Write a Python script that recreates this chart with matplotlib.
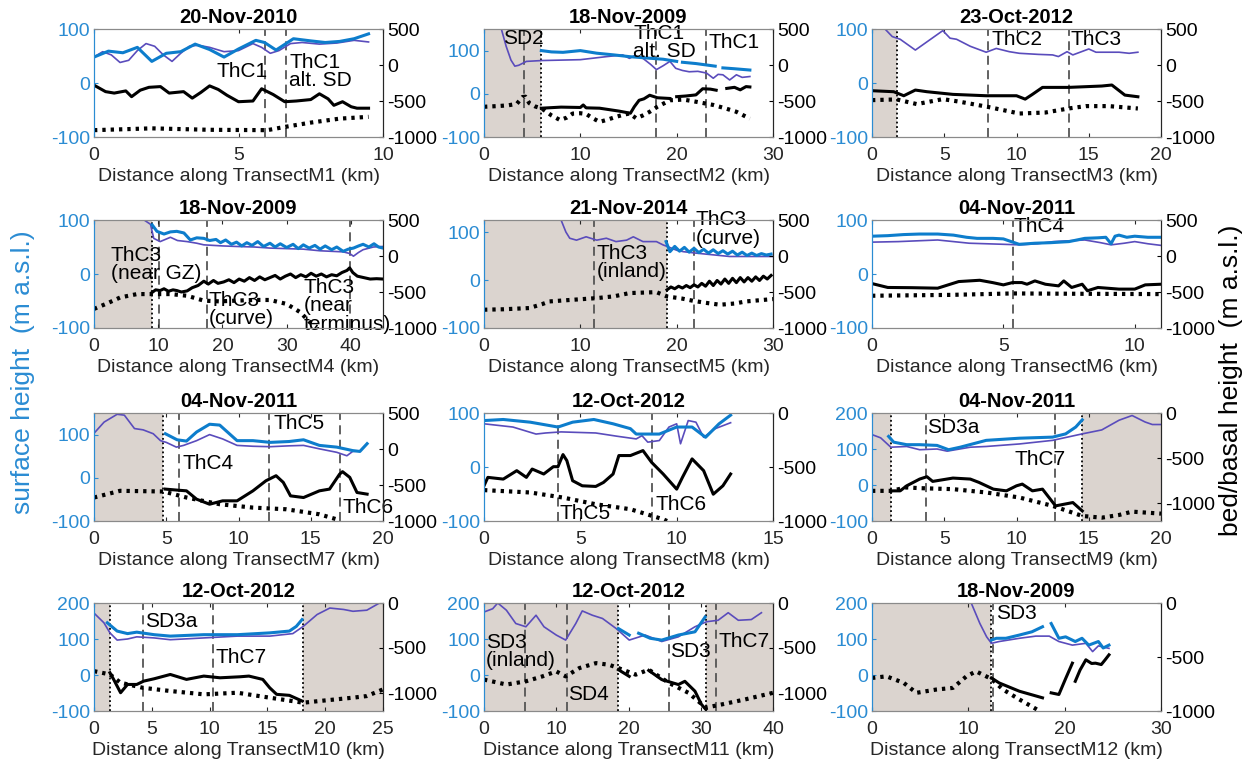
import numpy as np
import matplotlib.pyplot as plt

nan = np.nan

# ---- M1 ----
m1_surf_x = [0, 0.5, 1.0, 1.5, 2.0, 2.5, 3.0, 3.5, 4.0, 4.5, 5.0, 5.6, 5.9, 6.3, 6.9, 7.5, 8.0, 8.5, 9.0, 9.5]
m1_surf_y = [48, 59, 56, 66, 40, 55, 58, 72, 62, 48, 63, 79, 75, 61, 82, 78, 75, 77, 82, 91]
m1_dem_x = [0, 0.3, 0.6, 0.9, 1.2, 1.5, 1.8, 2.1, 2.4, 2.7, 3.0, 3.3, 3.6, 4.0, 4.5, 5.0, 5.5, 5.8, 6.1, 6.4, 6.8, 7.2, 7.8, 8.4, 9.0, 9.5]
m1_dem_y = [48, 58, 52, 38, 42, 60, 73, 68, 52, 40, 55, 68, 70, 66, 58, 60, 73, 66, 55, 60, 73, 75, 72, 74, 79, 76]
m1_base_x = [0, 0.4, 0.7, 1.1, 1.3, 1.6, 1.9, 2.3, 2.6, 3.1, 3.4, 3.7, 4.0, 4.3, 4.6, 5.0, 5.5, 5.8, 6.2, 6.6, 7.0, 7.5, 7.8, 8.1, 8.3, 8.6, 8.9, 9.1, 9.5]
m1_base_y = [-280, -370, -390, -360, -440, -350, -310, -300, -390, -370, -460, -380, -290, -340, -420, -510, -500, -330, -410, -510, -500, -480, -400, -470, -560, -510, -580, -600, -600]
m1_bed_x = [0, 2, 4, 6, 6.6, 7.5, 8.5, 9.5]
m1_bed_y = [-905, -880, -900, -905, -860, -800, -745, -720]

# ---- M2 ----
m2_surf_x = [5.95, 7, 8.2, 10, 11.7, 13.5, 15.1, 16.8, 18.6, 20.0, nan, 20.6, 22, 24.0, nan, 24.8, 26, 27.6]
m2_surf_y = [100, 97, 96, 100, 94, 90, 86, 83, 80, 75, nan, 73, 70, 64, nan, 60, 58, 55]
m2_dem_x = [1.8, 2.3, 2.8, 3.2, 3.6, 4.4, 6, 8, 10, 12.7, 14.4, 15.1, 15.6, 16.5, 17.3, 17.9, 18.6, 19.3, 19.9, 20.6, 21.3, 22.2, 23.1, 23.8, 24.3, 24.8, 25.5, 26.2, 26.8, 27.6]
m2_dem_y = [150, 110, 78, 64, 66, 75, 77, 78, 79, 86, 90, 82, 88, 82, 68, 56, 65, 75, 59, 54, 51, 52, 48, 36, 45, 44, 32, 44, 38, 40]
m2_base_x = [5.95, 8, 10, 10.3, 10.6, 12, 14, 15.2, 15.6, 16.1, 16.6, 17.2, 18.0, 19.3, nan, 20, 21, 22, 22.7, 23.5, 24.1, nan, 25.2, 26, 26.6, 27.2, 27.6]
m2_base_y = [-600, -585, -590, -555, -595, -600, -640, -670, -580, -490, -470, -420, -455, -465, nan, -440, -430, -415, -330, -335, -350, nan, -325, -310, -345, -300, -305]
m2_bed_x = [0, 1.5, 2.5, 3.4, 4.0, 4.3, 4.7, 5.3, 6.0, 7.0, 7.9, 8.6, 9.2, 10, 10.6, 11.3, 12.0, 12.8, 13.7, 14.5, 15.1, 15.8, 16.5, 17.2, 18, 19.3, 20.7, 22, 23.8, 25, 26.2, 27.6]
m2_bed_y = [-580, -570, -560, -540, -445, -440, -530, -575, -605, -700, -765, -730, -675, -670, -680, -740, -790, -760, -720, -690, -674, -740, -700, -650, -580, -490, -480, -510, -555, -600, -650, -745]

# ---- M3 ----
m3_dem_x = [0.9, 1.4, 1.95, 3.0, 4.9, 5.4, 5.85, 6.8, 7.9, 8.6, 9.5, 10.2, 11.5, 12.5, 12.9, 13.5, 13.9, 14.5, 15.0, 15.5, 16.5, 17.1, 17.8, 18.4]
m3_dem_y = [100, 86, 81, 61, 97, 83, 81, 68, 57, 64, 58, 55, 53, 52, 49, 58, 52, 58, 63, 57, 57, 57, 55, 57]
m3_base_x = [0, 1.5, 2.2, 3.0, 3.8, 5.6, 7.9, 10.0, 10.6, 11.1, 11.8, 13.6, 15.9, 16.6, 17.5, 18.4]
m3_base_y = [-357, -371, -427, -348, -371, -408, -427, -427, -474, -408, -311, -311, -292, -278, -418, -441]
m3_bed_x = [0, 1.7, 3.1, 4.9, 6.1, 8.0, 10.2, 12.0, 13.6, 14.8, 16.4, 18.4]
m3_bed_y = [-488, -478, -543, -474, -511, -581, -674, -660, -604, -571, -571, -604]

# ---- M4 ----
m4_surf_x = [9.05, 9.8, 10.9, 11.9, 12.9, 14.0, 15.0, 16.0, 17.1, 18.0, 19.0, 19.7, 20.5, 21.4, 22.2, 23.0, 23.8, 24.6, 25.5, 26.4, 27.4, 28.2, 29.0, 30.0, 31.0, 31.8, 32.6, 33.5, 34.4, 35.2, 36.0, 37.0, 37.8, 38.8, 39.6, 40.4, 41.2, 41.9, 42.8, 43.6, 44.3, 45]
m4_surf_y = [91, 79, 74, 78, 79, 76, 63, 67, 66, 62, 64, 58, 63, 55, 59, 52, 58, 53, 60, 51, 57, 50, 56, 49, 55, 47, 54, 48, 53, 46, 52, 45, 50, 42, 46, 48, 52, 55, 50, 56, 50, 48]
m4_dem_x = [7.8, 8.8, 9.3, 10.3, 11.9, 13.0, 14.5, 16, 17.1, 20, 22.2, 25, 27.4, 30, 32.6, 35.2, 37, 38.8, 39.8, 40.4, 41.2, 41.9, 43.5, 45]
m4_dem_y = [100, 92, 66, 60, 68, 62, 60, 57, 54, 52, 51, 50, 48, 47, 46, 43, 42, 41, 38, 33, 40, 45, 50, 51]
m4_base_x = [9.05, 9.6, 10.3, 10.9, 11.6, 12.3, 12.9, 13.6, 14.5, 15.3, 16.2, 17.1, 17.8, 18.6, 19.3, 20.2, 21.0, 21.8, 22.6, 23.4, 24.2, 25.0, 25.8, 26.6, 27.4, 28.2, 29.0, 29.8, 30.6, 31.4, 32.2, 33.0, 33.8, 34.6, 35.4, 36.2, 37.0, 37.8, 38.6, 39.4, 39.8, 40.3, 41.0, 42, 43, 44, 45]
m4_base_y = [-506, -470, -480, -455, -490, -470, -480, -500, -485, -440, -410, -350, -390, -340, -380, -360, -330, -370, -320, -350, -300, -340, -290, -330, -300, -270, -320, -280, -250, -300, -260, -290, -240, -280, -250, -290, -260, -275, -230, -200, -165, -230, -280, -300, -320, -315, -320]
m4_bed_x = [0, 2, 4.1, 6.7, 9.05, 11.9, 14.5, 17.1, 19.5, 22.2, 25, 27.4, 30, 32.1, 33.6, 34.7]
m4_bed_y = [-735, -660, -575, -529, -529, -529, -552, -620, -630, -620, -610, -611, -666, -780, -918, -987]

# ---- M5 ----
m5_dem_x = [8, 8.5, 8.9, 9.6, 10.6, 11.7, 12.7, 13.7, 14.8, 15.5, 16.5, 17.9, 18.6, 19.0, 20.0, 20.7, 22, 23.5, 25.5, 27.5, 30]
m5_dem_y = [125, 100, 87, 83, 90, 83, 87, 80, 83, 90, 80, 80, 73, 70, 62, 59, 56, 53, 49, 49, 49]
m5_surf_x = [18.9, 19.3, 19.8, 20.3, 20.8, 21.3, 21.8, 22.3, 22.8, 23.3, 23.8, 24.3, 24.8, 25.3, 25.8, 26.3, 26.8, 27.3, 27.8, 28.3, 28.8, 29.3, 29.8]
m5_surf_y = [80, 59, 70, 60, 68, 58, 66, 57, 64, 56, 63, 55, 61, 54, 60, 52, 58, 51, 56, 51, 55, 52, 54]
m5_base_x = [19.0, 19.4, 19.8, 20.2, 20.6, 21.0, 21.4, 21.8, 22.2, 22.6, 23.0, 23.4, 23.8, 24.2, 24.6, 25.0, 25.4, 25.8, 26.2, 26.6, 27.0, 27.4, 27.8, 28.2, 28.6, 29.0, 29.4, 29.8]
m5_base_y = [-470, -430, -455, -420, -445, -410, -440, -400, -430, -380, -420, -350, -410, -340, -390, -320, -380, -310, -370, -300, -360, -300, -350, -290, -340, -280, -320, -270]
m5_bed_x = [0, 2, 4.7, 6.0, 6.8, 9, 11.7, 13.5, 15.1, 17.9, 19.0, 20.5, 21.7, 23, 24.5, 26, 27.2, 30]
m5_bed_y = [-746, -740, -723, -670, -631, -610, -585, -560, -515, -502, -562, -590, -622, -650, -677, -660, -631, -598]

# ---- M6 ----
m6_surf_x = [0, 0.6, 1.2, 1.8, 2.5, 3.1, 3.6, 4.0, 4.6, 5.0, 5.3, 5.6, 6.2, 6.8, 7.5, 8.1, 8.6, 8.9, 9.0, 9.1, 9.25, 9.4, 9.7, 10, 10.5, 11]
m6_surf_y = [70, 71, 73, 74, 74, 72, 68, 66, 66, 65, 60, 55, 57, 58, 60, 66, 67, 68, 62, 56, 70, 72, 68, 70, 68, 68]
m6_dem_x = [0, 1.0, 2.5, 3.7, 5.0, 5.6, 6.3, 6.9, 8.1, 8.7, 9.1, 9.6, 10, 10.5, 11]
m6_dem_y = [59, 60, 63, 57, 55, 54, 56, 60, 63, 58, 54, 57, 60, 56, 53]
m6_base_x = [0, 0.6, 1.5, 2.5, 3.3, 4.1, 4.6, 5.0, 5.35, 5.7, 5.9, 6.2, 6.6, 7.1, 7.3, 7.6, 8.0, 8.2, 8.6, 9.4, 10.0, 10.4, 11]
m6_base_y = [-383, -437, -440, -447, -355, -337, -370, -401, -369, -369, -392, -346, -392, -415, -346, -437, -392, -483, -437, -460, -460, -401, -392]
m6_bed_x = [0, 3, 5.35, 8, 11]
m6_bed_y = [-552, -540, -520, -525, -529]

# ---- M7 ----
m7_dem_x = [0, 0.7, 1.6, 2.1, 2.8, 3.4, 4.1, 4.6, 5.0, 5.7, 6.2, 7.1, 8.0, 8.9, 9.9, 11, 12.2, 13.5, 14.5, 15.6, 16.8, 17.5, 17.9, 18.4, 18.9]
m7_dem_y = [103, 129, 147, 145, 114, 111, 102, 86, 82, 71, 75, 86, 100, 90, 75, 73, 72, 74, 75, 67, 59, 51, 61, 62, 79]
m7_surf_x = [4.94, 5.75, 6.4, 7.1, 8.0, 8.7, 9.9, 11, 12.2, 13.5, 14.5, 15.6, 16.8, 17.9, 18.4, 18.9]
m7_surf_y = [102, 88, 85, 106, 124, 122, 86, 86, 82, 84, 88, 75, 71, 63, 61, 79]
m7_base_x = [4.94, 5.75, 6.4, 7.1, 8.0, 8.9, 9.9, 11, 11.9, 12.6, 13.1, 13.6, 14.5, 15.6, 16.3, 17.0, 17.2, 17.7, 18.2, 18.9]
m7_base_y = [-557, -571, -581, -697, -767, -720, -720, -581, -441, -371, -464, -651, -674, -581, -557, -348, -315, -394, -604, -627]
m7_bed_x = [0, 1.8, 4.8, 6.4, 8.7, 11, 13.3, 15.6, 16.8, 17.0]
m7_bed_y = [-674, -581, -590, -674, -767, -814, -837, -907, -977, -1000]

# ---- M8 ----
m8_surf_x = [0, 1, 2.4, 3.84, 4.6, 5.7, 6.7, 7.6, 7.9, 9.1, 10, 10.8, 11.5, 12.2, 12.8]
m8_surf_y = [86, 88, 83, 74, 83, 88, 80, 71, 61, 61, 74, 74, 55, 80, 96]
m8_dem_x = [0, 1.5, 2.7, 3.2, 4.0, 5.8, 6.9, 7.9, 8.2, 8.5, 9.1, 9.6, 10.0, 10.2, 10.6, 11.0, 11.4, 12.0, 12.8]
m8_dem_y = [80, 74, 61, 63, 65, 63, 57, 52, 58, 46, 49, 74, 80, 43, 86, 83, 55, 71, 82]
m8_base_x = [0, 0.2, 1, 1.7, 2.2, 2.5, 3.1, 3.6, 3.84, 4.1, 4.3, 4.6, 5.1, 5.8, 6.2, 6.7, 7.0, 7.6, 8.25, 8.7, 9.3, 10.0, 10.3, 10.8, 11.4, 11.9, 12.4, 12.8]
m8_base_y = [-674, -596, -612, -534, -596, -519, -565, -497, -497, -385, -441, -627, -674, -680, -643, -565, -394, -394, -348, -457, -565, -705, -596, -425, -534, -752, -674, -565]
m8_bed_x = [0, 2.4, 4.1, 5.8, 7.6, 9.3, 9.5]
m8_bed_y = [-714, -736, -783, -845, -891, -984, -1000]

# ---- M9 ----
m9_dem_x = [0, 0.6, 1.3, 2.4, 3.3, 4.5, 5.2, 6.8, 7.9, 10.2, 12.5, 14.55, 15.9, 17.1, 18.0, 18.9, 19.4, 20]
m9_dem_y = [140, 131, 105, 107, 98, 100, 94, 105, 107, 114, 124, 142, 153, 180, 193, 175, 168, 168]
m9_surf_x = [1.15, 1.5, 2.4, 3.3, 4.5, 5.3, 6.1, 7.9, 10.2, 12.5, 13.4, 14.1, 14.55]
m9_surf_y = [135, 119, 112, 112, 110, 98, 105, 124, 130, 133, 142, 161, 181]
m9_base_x = [1.3, 1.95, 2.4, 3.3, 3.8, 4.2, 5.6, 6.8, 7.4, 8.4, 9.3, 10.0, 10.4, 11.1, 11.8, 12.7, 13.9, 14.55]
m9_base_y = [-865, -865, -809, -734, -708, -760, -723, -734, -771, -846, -865, -809, -790, -865, -846, -1032, -995, -1088]
m9_bed_x = [0, 1.3, 2.4, 3.3, 5.6, 7.9, 10.2, 12.5, 14.55, 15.9, 17.1, 18.0, 20]
m9_bed_y = [-865, -865, -827, -835, -846, -883, -939, -1032, -1144, -1163, -1133, -1096, -1118]

# ---- M10 ----
m10_dem_x = [0, 0.86, 1.38, 2, 2.9, 3.7, 5.2, 6.6, 9.5, 12.4, 15.2, 17.2, 18.1, 19.3, 20.4, 21.6, 22.4, 23.6, 24.7, 25]
m10_dem_y = [172, 145, 117, 97, 100, 106, 103, 98, 103, 108, 108, 115, 135, 168, 186, 182, 177, 180, 200, 200]
m10_surf_x = [1.15, 2, 2.9, 3.7, 5.2, 6.6, 9.5, 12.4, 15.2, 16.9, 17.5, 18]
m10_surf_y = [145, 122, 115, 119, 112, 108, 112, 112, 117, 122, 135, 154]
m10_base_x = [1.38, 1.7, 2.3, 2.9, 3.7, 4.3, 5.2, 6.6, 8, 9.5, 10.9, 12.6, 13.4, 14.6, 15.2, 15.8, 16.9, 18]
m10_base_y = [-775, -849, -997, -905, -905, -868, -842, -794, -849, -812, -831, -820, -812, -849, -942, -1015, -1026, -1089]
m10_bed_x = [0, 1.38, 2.3, 4.22, 6.6, 9.5, 12.4, 15.2, 18.1, 19.5, 22.4, 23.6, 25]
m10_bed_y = [-757, -794, -886, -942, -978, -1015, -997, -1052, -1108, -1089, -1052, -1034, -960]

# ---- M11 ----
m11_dem_x = [0, 1.2, 1.9, 3.1, 4.4, 5.8, 7.2, 8.3, 10, 11.3, 12.7, 13.6, 15, 16.4, 18.3, 20.1, 22.3, 24.6, 26.9, 29.2, 30.8, 32.4, 33.8, 35.2, 37, 38.4]
m11_dem_y = [175, 184, 200, 180, 143, 134, 166, 134, 111, 97, 143, 178, 166, 157, 129, 97, 111, 93, 106, 134, 148, 152, 173, 152, 154, 173]
m11_surf_x = [18.6, 20.1, nan, 21.4, 23, 24.6, 26.9, 29.2, 30.6]
m11_surf_y = [129, 111, nan, 116, 102, 97, 111, 120, 161]
m11_base_x = [18.6, 20.1, nan, 22.8, 24.6, 26.9, 27.8, 29.2, 30.1, 30.7]
m11_base_y = [-741, -815, nan, -749, -851, -906, -870, -980, -1127, -1182]
m11_bed_x = [0, 3.1, 5.8, 8.1, 10, 11.3, 13.2, 15.5, 17.3, 18.6, 21, 22.8, 25.6, 28.3, 30.7, 32.9, 36.1, 40]
m11_bed_y = [-851, -906, -870, -815, -760, -815, -723, -668, -686, -723, -796, -741, -888, -998, -1163, -1127, -1072, -998]

# ---- M12 ----
m12_dem_x = [10.3, 11.2, 11.9, 12.4, 13.2, 15.3, 17.0, 18.4, 19.4, 20.8, 22.2, 22.9, 23.5, 24.6]
m12_dem_y = [200, 143, 106, 88, 93, 102, 108, 108, 93, 83, 88, 65, 81, 74]
m12_surf_x = [12.4, 12.9, 13.9, 15.3, 16.6, 17.7, nan, 18.6, 19.4, 20.1, 21.1, 21.8, 22.5, 23.5, 24.0, 24.6]
m12_surf_y = [97, 102, 102, 111, 120, 134, nan, 143, 102, 106, 93, 102, 83, 93, 75, 83]
m12_base_x = [12.4, 13.2, 15.3, 17.7, nan, 18.6, 19.4, 20.1, 20.8, nan, 21.1, 21.6, 22.2, 22.8, 23.2, 23.8, 24.2, 24.6]
m12_base_y = [-694, -740, -817, -878, nan, -832, -847, -700, -557, nan, -725, -620, -526, -560, -557, -570, -526, -480]
m12_bed_x = [0, 1.5, 3.3, 4.6, 6.7, 8.4, 9.8, 10.8, 12.4, 13.6, 15.3, 17.4]
m12_bed_y = [-694, -679, -740, -832, -801, -786, -679, -633, -703, -801, -893, -1000]

# panel settings: titles, limits, shaded (grounded) parts, marker lines, labels
titles = ["20-Nov-2010", "18-Nov-2009", "23-Oct-2012", "18-Nov-2009", "21-Nov-2014", "04-Nov-2011",
          "04-Nov-2011", "12-Oct-2012", "04-Nov-2011", "12-Oct-2012", "12-Oct-2012", "18-Nov-2009"]
xmax = [10, 30, 20, 45, 30, 11, 20, 15, 20, 25, 40, 30]
xticks = [[0, 5, 10], [0, 10, 20, 30], [0, 5, 10, 15, 20], [0, 10, 20, 30, 40], [0, 10, 20, 30], [0, 5, 10],
          [0, 5, 10, 15, 20], [0, 5, 10, 15], [0, 5, 10, 15, 20], [0, 5, 10, 15, 20, 25], [0, 10, 20, 30, 40], [0, 10, 20, 30]]
left_lim = [(-100, 100), (-100, 150), (-100, 100), (-100, 100), (-100, 125), (-100, 100),
            (-100, 150), (-100, 100), (-100, 200), (-100, 200), (-100, 200), (-100, 200)]
right_lim = [(-1000, 500)] * 7 + [(-1000, 0), (-1200, 0), (-1200, 0), (-1200, 0), (-1000, 0)]
shade = [[], [(0, 5.95)], [(0, 1.72)], [(0, 9.05)], [(0, 19.0)], [],
         [(0, 4.78)], [], [(0, 1.3), (14.55, 20)], [(0, 1.38), (18.1, 25)], [(0, 18.6), (30.7, 40)], [(0, 12.37)]]
dotted = [[], [5.95], [1.72], [9.05], [19.0], [], [4.78], [], [1.3, 14.55], [1.38, 18.1], [18.6, 30.7], [12.37]]
dashed = [[5.9, 6.65], [4.2, 17.9, 23.0], [8.0, 13.6], [10.1, 17.6, 39.8], [11.4, 21.8], [5.35],
          [5.9, 12.1, 17.0], [3.84, 8.74], [3.73, 12.67], [4.22, 10.3], [5.7, 11.5, 25.6, 32.1], [12.6]]
labels = [
    [("ThC1", 4.25, 21), ("ThC1\nalt. SD", 6.75, 21)],
    [("SD2", 2.0, 127), ("ThC1\nalt. SD", 15.5, 119), ("ThC1", 23.3, 119)],
    [("ThC2", 8.25, 81), ("ThC3", 13.75, 81)],
    [("ThC3\n(near GZ)", 2.6, 18), ("ThC3\n(curve)", 17.8, -66), ("ThC3\n(near\nterminus)", 32.6, -59)],
    [("ThC3\n(inland)", 11.7, 36), ("ThC3\n(curve)", 22.0, 106)],
    [("ThC4", 5.4, 88)],
    [("ThC4", 6.1, 32), ("ThC5", 12.4, 125), ("ThC6", 17.2, -69)],
    [("ThC5", 3.9, -86), ("ThC6", 8.9, -69)],
    [("SD3a", 3.8, 161), ("ThC7", 9.85, 72)],
    [("SD3a", 4.4, 149), ("ThC7", 10.5, 48)],
    [("SD3\n(inland)", 0.3, 65), ("SD4", 11.7, -54), ("SD3", 25.8, 65), ("ThC7", 32.4, 93)],
    [("SD3", 12.9, 171)],
]

surf = [(m1_surf_x, m1_surf_y), (m2_surf_x, m2_surf_y), None, (m4_surf_x, m4_surf_y), (m5_surf_x, m5_surf_y),
        (m6_surf_x, m6_surf_y), (m7_surf_x, m7_surf_y), (m8_surf_x, m8_surf_y), (m9_surf_x, m9_surf_y),
        (m10_surf_x, m10_surf_y), (m11_surf_x, m11_surf_y), (m12_surf_x, m12_surf_y)]
dem = [(m1_dem_x, m1_dem_y), (m2_dem_x, m2_dem_y), (m3_dem_x, m3_dem_y), (m4_dem_x, m4_dem_y), (m5_dem_x, m5_dem_y),
       (m6_dem_x, m6_dem_y), (m7_dem_x, m7_dem_y), (m8_dem_x, m8_dem_y), (m9_dem_x, m9_dem_y),
       (m10_dem_x, m10_dem_y), (m11_dem_x, m11_dem_y), (m12_dem_x, m12_dem_y)]
base = [(m1_base_x, m1_base_y), (m2_base_x, m2_base_y), (m3_base_x, m3_base_y), (m4_base_x, m4_base_y),
        (m5_base_x, m5_base_y), (m6_base_x, m6_base_y), (m7_base_x, m7_base_y), (m8_base_x, m8_base_y),
        (m9_base_x, m9_base_y), (m10_base_x, m10_base_y), (m11_base_x, m11_base_y), (m12_base_x, m12_base_y)]
bed = [(m1_bed_x, m1_bed_y), (m2_bed_x, m2_bed_y), (m3_bed_x, m3_bed_y), (m4_bed_x, m4_bed_y),
       (m5_bed_x, m5_bed_y), (m6_bed_x, m6_bed_y), (m7_bed_x, m7_bed_y), (m8_bed_x, m8_bed_y),
       (m9_bed_x, m9_bed_y), (m10_bed_x, m10_bed_y), (m11_bed_x, m11_bed_y), (m12_bed_x, m12_bed_y)]

plt.rcParams['font.family'] = ['Liberation Sans', 'DejaVu Sans']
plt.rcParams['axes.unicode_minus'] = False

BLUE = '#0d7dcc'
BLUE_TXT = '#2b8cd3'
PURPLE = '#5a4cbc'
SHADE = '#dbd4cf'
W, H = 1254, 765

fig = plt.figure(figsize=(W / 100, H / 100), dpi=100)

col_left = [94, 484, 872]
row_top = [29, 220, 413, 603]
aw, ah = 289, 108

for i in range(12):
    r, c = divmod(i, 3)
    ax = fig.add_axes([col_left[c] / W, 1 - (row_top[r] + ah) / H, aw / W, ah / H])
    ax2 = ax.twinx()

    for a, b in shade[i]:
        ax.axvspan(a, b, color=SHADE, lw=0, zorder=0)
    for xv in dotted[i]:
        ax.axvline(xv, color='k', ls=(0, (1, 1.5)), lw=1.3, zorder=1)
    for xv in dashed[i]:
        ax.axvline(xv, color='#555555', ls=(0, (5, 3)), lw=1.3, zorder=1)

    ax.plot(dem[i][0], dem[i][1], color=PURPLE, lw=1.2, zorder=2)
    if surf[i] is not None:
        ax.plot(surf[i][0], surf[i][1], color=BLUE, lw=2.2, zorder=3)
    ax2.plot(base[i][0], base[i][1], color='k', lw=2.2)
    ax2.plot(bed[i][0], bed[i][1], color='k', lw=3, ls=(0, (0.8, 1.2)))

    for txt, tx, ty in labels[i]:
        ax.text(tx, ty, txt, fontsize=15, va='center', ha='left', linespacing=0.95, zorder=5)

    ax.set_xlim(0, xmax[i])
    ax.set_xticks(xticks[i])
    ax.set_ylim(*left_lim[i])
    lo, hi = left_lim[i]
    ax.set_yticks([v for v in [-100, 0, 100, 200] if lo <= v <= hi])
    ax2.set_ylim(*right_lim[i])
    lo2, hi2 = right_lim[i]
    ax2.set_yticks([v for v in [-1000, -500, 0, 500] if lo2 <= v <= hi2])

    ax.set_title(titles[i], fontsize=14.5, fontweight='bold', pad=4)
    ax.set_xlabel("Distance along TransectM%d (km)" % (i + 1), fontsize=14, color='#262626', labelpad=3)

    ax.tick_params(axis='x', direction='in', length=3, labelsize=14, colors='#262626', pad=7, top=True)
    ax.tick_params(axis='y', direction='in', length=3, labelsize=14, colors=BLUE_TXT, pad=3)
    ax2.tick_params(axis='y', direction='in', length=3, labelsize=14, colors='k', pad=3)
    for a in (ax, ax2):
        a.spines['top'].set_color('#8a8a8a')
        a.spines['bottom'].set_color('#8a8a8a')
        a.spines['left'].set_color(BLUE_TXT)
        a.spines['right'].set_color('#262626')

fig.text(0.018, 1 - 372 / H, "surface height  (m a.s.l.)", rotation=90, color=BLUE_TXT,
         fontsize=19, ha='center', va='center')
fig.text(0.982, 1 - 380 / H, "bed/basal height  (m a.s.l.)", rotation=90, color='k',
         fontsize=19, ha='center', va='center')

fig.savefig('out.png', dpi=100)
